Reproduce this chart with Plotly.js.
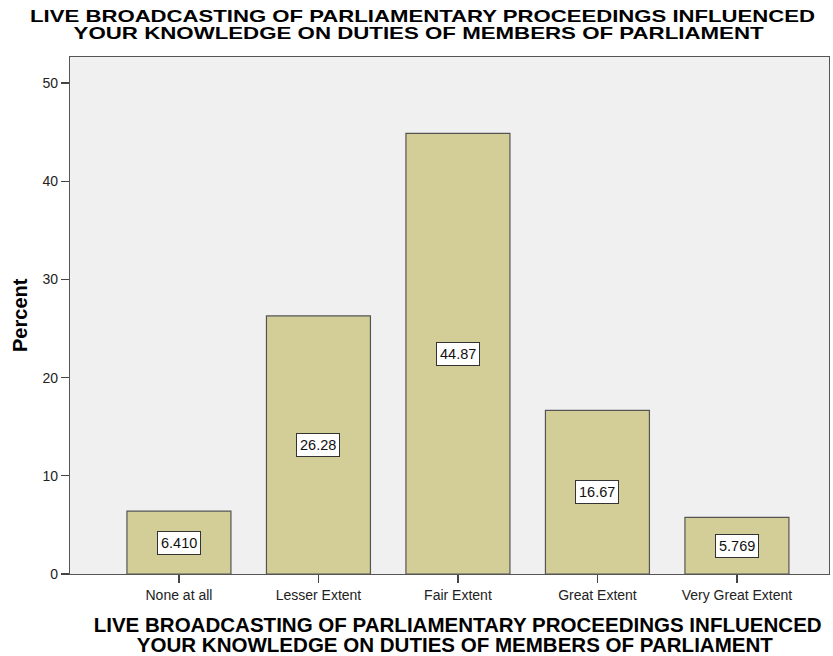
<!DOCTYPE html>
<html>
<head>
<meta charset="utf-8">
<script src="https://cdn.plot.ly/plotly-3.0.1.min.js"></script>
<style>
  html, body { margin: 0; padding: 0; background: #ffffff; }
  #chart { width: 833px; height: 656px; }
</style>
</head>
<body>
<div id="chart"></div>
<script>
// Response categories and their share of respondents (%)
const categories = ["None at all", "Lesser Extent", "Fair Extent", "Great Extent", "Very Great Extent"];
const percents = [6.410, 26.28, 44.87, 16.67, 5.769];
const yTicks = [0, 10, 20, 30, 40, 50];

const titleLines = [
  "LIVE BROADCASTING OF PARLIAMENTARY PROCEEDINGS INFLUENCED",
  "YOUR KNOWLEDGE ON DUTIES OF MEMBERS OF PARLIAMENT"
];

const FONT = "Liberation Sans, Arial, Helvetica, sans-serif";
const xIdx = categories.map((_, i) => i);

const barTrace = {
  type: "bar",
  x: xIdx,
  y: percents,
  width: 0.7455,
  marker: { color: "#d3ce97", line: { color: "#555555", width: 1.2 } },
  hoverinfo: "skip"
};

// Value boxes sit at the middle of each bar
const valueBoxes = percents.map((v, i) => ({
  x: i, y: v / 2, xref: "x", yref: "y",
  text: v.toPrecision(4),
  showarrow: false,
  bgcolor: "#ffffff",
  bordercolor: "#333333",
  borderwidth: 1,
  borderpad: 3,
  font: { family: FONT, size: 14.5, color: "#111111" }
}));

// Chart heading (two lines above the plot) and x-axis heading (two lines below)
const headingStyle = [
  { x: 0.4644, y: 1.0793, size: 16.5, len: 785 },
  { x: 0.4585, y: 1.0465, size: 16.5, len: 690 },
  { x: 0.5099, y: -0.0986, size: 20,   len: 728 },
  { x: 0.5072, y: -0.1373, size: 20,   len: 636 }
];
const headings = headingStyle.map((h, i) => ({
  xref: "paper", yref: "paper", x: h.x, y: h.y,
  xanchor: "center", yanchor: "middle",
  text: titleLines[i % 2],
  showarrow: false,
  font: { family: FONT, size: h.size, color: "#000000", weight: "bold" }
}));

const yTitle = {
  xref: "paper", yref: "paper", x: -0.0659, y: 0.501,
  xanchor: "center", yanchor: "middle",
  text: "Percent", textangle: -90, showarrow: false,
  font: { family: FONT, size: 20, color: "#000000", weight: "bold" }
};

const layout = {
  width: 833, height: 656,
  margin: { l: 70, r: 4, t: 57, b: 82 },
  paper_bgcolor: "#ffffff",
  plot_bgcolor: "#f0f0f0",
  showlegend: false,
  xaxis: {
    range: [-0.781, 4.66],
    tickmode: "array",
    tickvals: xIdx,
    ticktext: categories,
    ticks: "outside", ticklen: 8, tickwidth: 1.2, tickcolor: "#444444",
    showline: true, linecolor: "#555555", linewidth: 1.2, mirror: true,
    showgrid: false, zeroline: false,
    tickfont: { family: FONT, size: 14, color: "#222222" }
  },
  yaxis: {
    range: [0, 52.65],
    tickmode: "array",
    tickvals: yTicks,
    ticks: "outside", ticklen: 8, tickwidth: 1.2, tickcolor: "#444444",
    showline: true, linecolor: "#555555", linewidth: 1.2, mirror: true,
    showgrid: false, zeroline: false,
    tickfont: { family: FONT, size: 14, color: "#222222" }
  },
  annotations: valueBoxes.concat(headings, [yTitle])
};

Plotly.newPlot("chart", [barTrace], layout, { staticPlot: true, displayModeBar: false })
  .then(() => {
    // stretch each heading line to its set width
    headingStyle.forEach((h, i) => {
      const idx = valueBoxes.length + i;
      const t = document.querySelector('g.annotation[data-index="' + idx + '"] text.annotation-text');
      if (t) {
        t.setAttribute("textLength", h.len);
        t.setAttribute("lengthAdjust", "spacingAndGlyphs");
      }
    });
  });
</script>
</body>
</html>
